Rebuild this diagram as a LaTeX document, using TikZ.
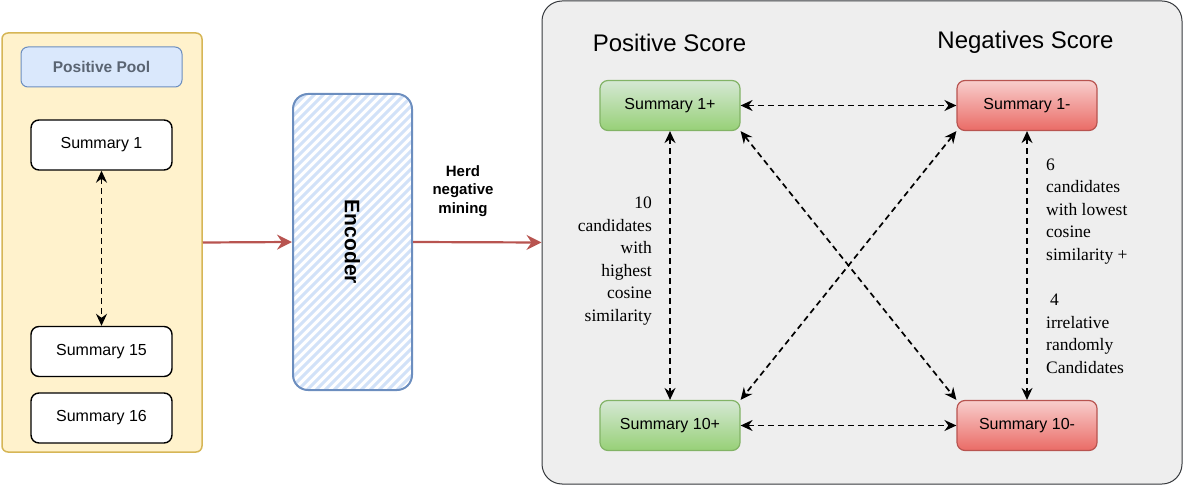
\documentclass[tikz,border=0pt]{standalone}
\usepackage{fontspec}
\setmainfont{Liberation Serif}
\newfontfamily\sansf{Liberation Sans}
\usetikzlibrary{arrows.meta,calc}
\definecolor{ylfill}{HTML}{FFF2CC}
\definecolor{ylline}{HTML}{D6B656}
\definecolor{blfill}{HTML}{DAE8FC}
\definecolor{blline}{HTML}{6C8EBF}
\definecolor{gyfill}{HTML}{EEEEEE}
\definecolor{gyline}{HTML}{36393D}
\definecolor{grtop}{HTML}{D5E8D4}
\definecolor{grbot}{HTML}{97D077}
\definecolor{grline}{HTML}{82B366}
\definecolor{rdtop}{HTML}{F8CECC}
\definecolor{rdbot}{HTML}{EA6B66}
\definecolor{rdline}{HTML}{B85450}
\definecolor{pooltext}{HTML}{5A6472}
\definecolor{hatchc}{HTML}{D2E2F8}
\tikzset{
  panelbox/.style={draw, rounded corners=#1, inner sep=0pt},
  sumbox/.style={draw=black, line width=1.4pt, fill=white, rounded corners=8pt,
    minimum width=141pt, minimum height=50pt, font=\sansf\fontsize{16}{18}\selectfont},
  posbox/.style={draw=grline, line width=1.2pt, top color=grtop, bottom color=grbot, rounded corners=8pt,
    minimum width=140pt, minimum height=50pt, font=\sansf\fontsize{16}{18}\selectfont},
  negbox/.style={draw=rdline, line width=1.2pt, top color=rdtop, bottom color=rdbot, rounded corners=8pt,
    minimum width=140pt, minimum height=50pt, font=\sansf\fontsize{16}{18}\selectfont},
  titletext/.style={font=\sansf\fontsize{24}{28}\selectfont, inner sep=0pt},
  serlabel/.style={font=\fontsize{17.5}{22.6}\selectfont, inner sep=0pt},
  redarrow/.style={draw=rdline, line width=2.2pt, -{Stealth[length=15pt,width=15pt,inset=5pt]}},
  dasharrow/.style={draw=black, line width=1.7pt, dash pattern=on 6pt off 4pt,
    {Stealth[length=12pt,width=11pt,inset=4pt]}-{Stealth[length=12pt,width=11pt,inset=4pt]}},
}
\begin{document}
\begin{tikzpicture}[x=1pt,y=-1pt]
\useasboundingbox (0,0) rectangle (1185,486);
% left panel
\node[panelbox=6pt, draw=ylline, fill=ylfill, line width=1.5pt, minimum width=200pt, minimum height=419pt] (pool) at (102,242.5) {};
\node[draw=blline, fill=blfill, line width=1pt, rounded corners=7pt, minimum width=161pt, minimum height=40pt,
  font=\sansf\bfseries\fontsize{15.5}{18}\selectfont, text=pooltext] (pp) at (101.5,67) {Positive Pool};
\node[sumbox] (s1) at (101.5,145) {Summary 1};
\node[sumbox] (s15) at (101.5,351.5) {Summary 15};
\node[sumbox] (s16) at (101.5,418) {Summary 16};
\draw[dasharrow] (s1.south) -- (s15.north);
% encoder
\node[draw=blline, line width=2pt, fill=white, rounded corners=15pt, minimum width=119pt, minimum height=296pt,
  font=\sansf\bfseries\fontsize{21}{24}\selectfont,
  path picture={
    \foreach \i in {0,...,50} {
      \draw[hatchc, line width=3pt] ($(path picture bounding box.south west)+(\i*9-320,10)$) -- ++(330,-330);
    }
  }] (enc) at (352.5,242) {\rotatebox{-90}{Encoder}};
% right panel
\node[panelbox=20pt, draw=gyline, fill=gyfill, line width=1pt, minimum width=640pt, minimum height=483pt] (score) at (862,242.5) {};
\draw[redarrow] (pool.east) -- (enc.west);
\draw[redarrow] (enc.east) -- (score.west);
\node[font=\sansf\bfseries\fontsize{15}{18.5}\selectfont, align=center, inner sep=0pt] (herd) at (463,191) {Herd\\negative\\mining};
\node[titletext] (tpos) at (669.5,43) {Positive Score};
\node[titletext] (tneg) at (1025.5,42) {Negatives Score};
\node[posbox] (p1) at (670,105.5) {Summary 1+};
\node[negbox] (n1) at (1027,105.5) {Summary 1-};
\node[posbox] (p10) at (670,425.5) {Summary 10+};
\node[negbox] (n10) at (1027,425.5) {Summary 10-};
\draw[dasharrow] (p1.east) -- (n1.west);
\draw[dasharrow] (p10.east) -- (n10.west);
\draw[dasharrow] (p1.south) -- (p10.north);
\draw[dasharrow] (n1.south) -- (n10.north);
\draw[dasharrow] (p1.south east) -- (n10.north west);
\draw[dasharrow] (n1.south west) -- (p10.north east);
\node[serlabel, align=right, anchor=east] (lpos) at (652,261) {10\\candidates\\with\\highest\\cosine\\similarity};
\node[serlabel, align=left, anchor=west] (lneg) at (1046,266) {6\\candidates\\with lowest\\cosine\\similarity +\\[22.6pt]\hspace{4pt}4\\irrelative\\randomly\\Candidates};
\end{tikzpicture}
\end{document}
